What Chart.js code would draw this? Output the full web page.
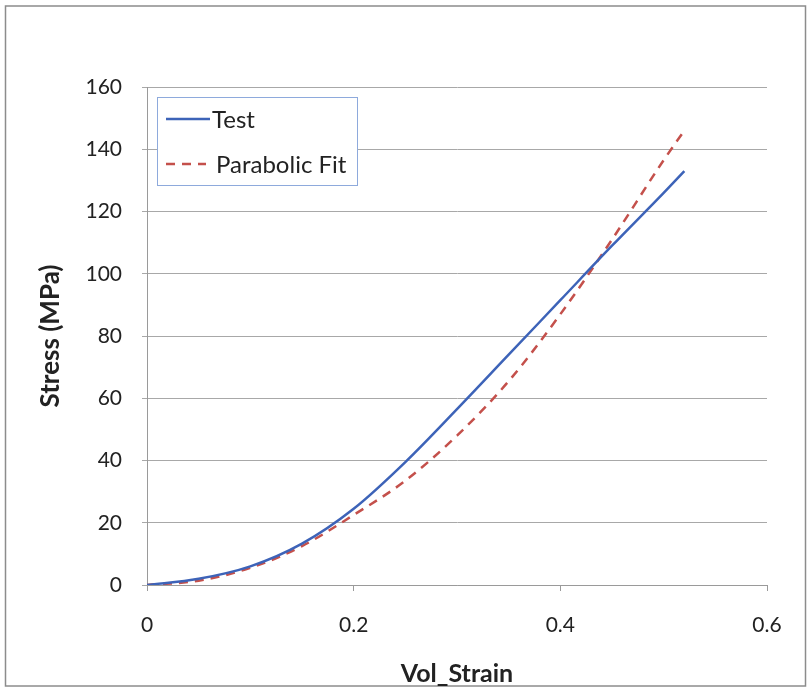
<!DOCTYPE html>
<html><head><meta charset="utf-8">
<script src="https://cdn.jsdelivr.net/npm/chart.js@4/dist/chart.umd.min.js"></script>
<style>html,body{margin:0;padding:0;background:#fff}#wrap{width:812px;height:691px;position:relative}</style>
</head><body><div id="wrap"><canvas id="c" width="812" height="691"></canvas></div>
<script>
const strainValues = [0, 0.05, 0.1, 0.15, 0.2, 0.25, 0.3, 0.35, 0.4, 0.45, 0.5, 0.52];
const testStress = [0, 2, 6, 13.3, 24.5, 39.5, 56.5, 74, 91.5, 109, 126, 133];
const fitStress = [0, 1.4, 5.5, 12.5, 22.5, 33.5, 48, 65.5, 87, 111, 136.5, 146];
const seriesLabels = ['Test', 'Parabolic Fit'];
const xTicks = [0, 0.2, 0.4, 0.6];
const yTicks = [0, 20, 40, 60, 80, 100, 120, 140, 160];

const FONT = 'Lato, "Liberation Sans", sans-serif';
const BLUE = '#3d63b8';
const RED = '#c4504b';

const frame = {
  id: 'frame',
  beforeDraw(chart) {
    const ctx = chart.ctx;
    ctx.save();
    ctx.fillStyle = '#fff';
    ctx.fillRect(0, 0, chart.width, chart.height);
    ctx.strokeStyle = '#8c8c8c';
    ctx.lineWidth = 1.5;
    ctx.strokeRect(5.5, 6, 800, 680);
    ctx.restore();
  }
};

const boxLegend = {
  id: 'boxLegend',
  afterDraw(chart) {
    const ctx = chart.ctx;
    ctx.save();
    ctx.fillStyle = '#fff';
    ctx.fillRect(157.5, 97.5, 200, 88);
    ctx.strokeStyle = '#8eaadc';
    ctx.lineWidth = 1;
    ctx.strokeRect(157.5, 97.5, 200, 88);
    ctx.font = '24px ' + FONT;
    ctx.textBaseline = 'middle';
    ctx.fillStyle = '#222';
    const ds = chart.data.datasets;
    ctx.strokeStyle = ds[0].borderColor; ctx.lineWidth = 2.5; ctx.setLineDash([]);
    ctx.beginPath(); ctx.moveTo(166, 119); ctx.lineTo(210, 119); ctx.stroke();
    ctx.fillText(ds[0].label, 212, 120);
    ctx.strokeStyle = ds[1].borderColor; ctx.setLineDash([9, 7]);
    ctx.beginPath(); ctx.moveTo(166, 164); ctx.lineTo(206, 164); ctx.stroke();
    ctx.setLineDash([]);
    ctx.fillText(ds[1].label, 216, 165);
    ctx.restore();
  }
};

const toPts = (xs, ys) => xs.map((x, i) => ({x, y: ys[i]}));

new Chart(document.getElementById('c'), {
  type: 'line',
  data: {
    datasets: [
      { label: seriesLabels[0], data: toPts(strainValues, testStress), borderColor: BLUE, borderWidth: 2.5,
        pointRadius: 0, cubicInterpolationMode: 'monotone', fill: false },
      { label: seriesLabels[1], data: toPts(strainValues, fitStress), borderColor: RED, borderWidth: 2.5,
        borderDash: [9, 7], pointRadius: 0, cubicInterpolationMode: 'monotone', fill: false }
    ]
  },
  options: {
    responsive: false,
    animation: false,
    events: [],
    layout: { padding: { left: 0, top: 87, right: 45, bottom: 0 } },
    plugins: { legend: { display: false }, tooltip: { enabled: false } },
    scales: {
      x: {
        type: 'linear', min: 0, max: 0.6,
        afterBuildTicks: s => { s.ticks = xTicks.map(v => ({value: v})); },
        afterFit: s => { s.height = 106; },
        grid: { drawOnChartArea: false, drawTicks: true, tickLength: 6, color: '#9a9a9a' },
        border: { color: '#9a9a9a', width: 1 },
        ticks: { font: { family: FONT, size: 21 }, color: '#222', padding: 22, maxRotation: 0,
                 callback: v => String(v) },
        title: { display: true, text: 'Vol_Strain', font: { family: FONT, size: 25, weight: 'bold' }, color: '#222',
                 padding: { top: 0, bottom: 2 } }
      },
      y: {
        type: 'linear', min: 0, max: 160,
        afterBuildTicks: s => { s.ticks = yTicks.map(v => ({value: v})); },
        afterFit: s => { s.width = 147; },
        grid: { color: '#a8a8a8', tickLength: 5, lineWidth: 1 },
        border: { color: '#9a9a9a', width: 1 },
        ticks: { font: { family: FONT, size: 21 }, color: '#222', padding: 20 },
        title: { display: true, text: 'Stress (MPa)', font: { family: FONT, size: 26, weight: 'bold' }, color: '#222',
                 padding: { top: 35, bottom: 0 } }
      }
    }
  },
  plugins: [frame, boxLegend]
});
</script>
</body></html>
